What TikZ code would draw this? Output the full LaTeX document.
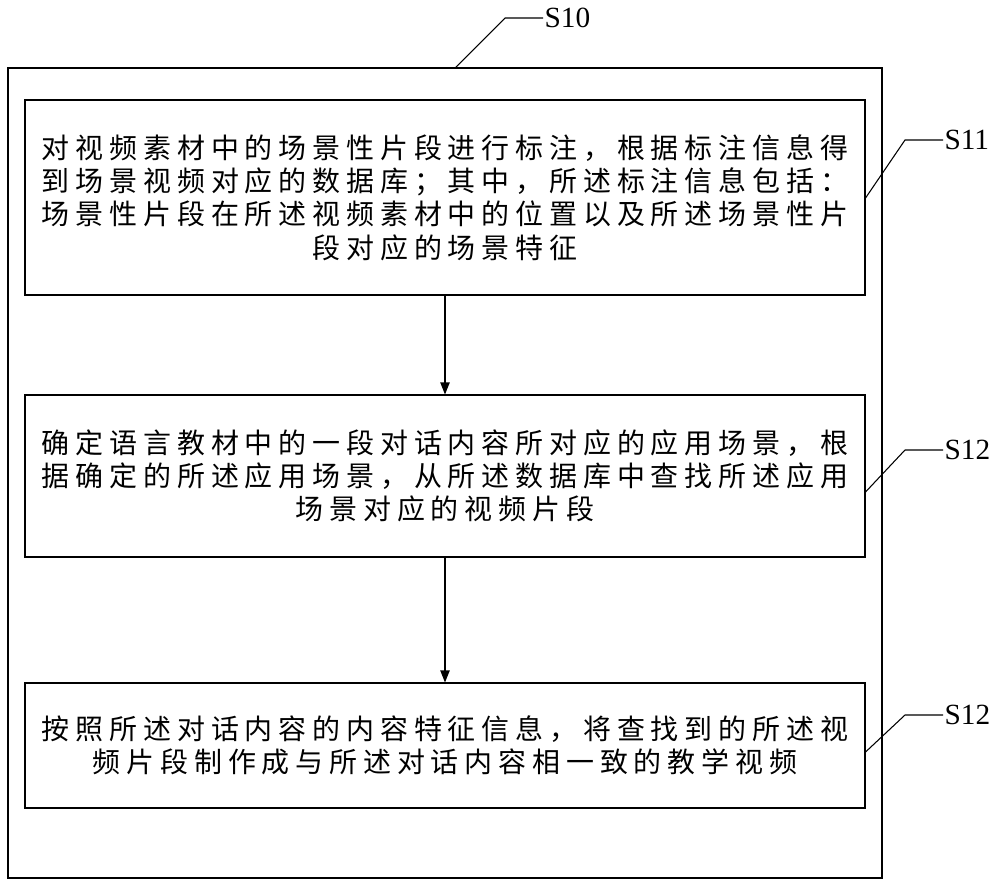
\documentclass[tikz,border=0pt]{standalone}
\usepackage{fontspec}
\setmainfont{Liberation Serif}
\newfontfamily\cjk[LetterSpace=21]{Noto Sans CJK SC}
\usetikzlibrary{arrows.meta}
\tikzset{
  stepbox/.style={draw, line width=0.8pt, minimum width=840*0.0264cm, align=center,
    font=\fontsize{21}{25}\selectfont\cjk, inner sep=0pt},
  steplabel/.style={font=\fontsize{22}{26}\selectfont, anchor=west, inner sep=1pt},
  flow/.style={-{Triangle[length=9pt,width=7pt]}, line width=0.8pt},
  leader/.style={line width=0.8pt}
}
\begin{document}
\begin{tikzpicture}[x=0.0264cm, y=-0.0264cm]
\useasboundingbox (0,0) rectangle (1000,883);
% outer frame
\draw[line width=0.8pt] (8,68) rectangle (882,878);
\coordinate (o) at (455,68);
\node[steplabel] (s10) at (543,18) {S10};
\draw[leader] (o) -- (505,18) -- (s10.west);
% steps
\node[stepbox, minimum height=195*0.0264cm] (b1) at (445,197.5)
  {对视频素材中的场景性片段进行标注，根据标注信息得\\
   到场景视频对应的数据库；其中，所述标注信息包括：\\
   场景性片段在所述视频素材中的位置以及所述场景性片\\
   段对应的场景特征};
\node[stepbox, minimum height=162*0.0264cm] (b2) at (445,476)
  {确定语言教材中的一段对话内容所对应的应用场景，根\\
   据确定的所述应用场景，从所述数据库中查找所述应用\\
   场景对应的视频片段};
\node[stepbox, minimum height=125*0.0264cm] (b3) at (445,745.5)
  {按照所述对话内容的内容特征信息，将查找到的所述视\\
   频片段制作成与所述对话内容相一致的教学视频};
\draw[flow] (b1) -- (b2);
\draw[flow] (b2) -- (b3);
% labels
\node[steplabel] (s11) at (943,140) {S11};
\node[steplabel] (s12a) at (943,450) {S12};
\node[steplabel] (s12b) at (943,715) {S12};
\draw[leader] (b1.east |- 0,198) -- (905,140) -- (s11.west);
\draw[leader] (b2.east |- 0,492) -- (905,450) -- (s12a.west);
\draw[leader] (b3.east |- 0,752) -- (905,715) -- (s12b.west);
\end{tikzpicture}
\end{document}
